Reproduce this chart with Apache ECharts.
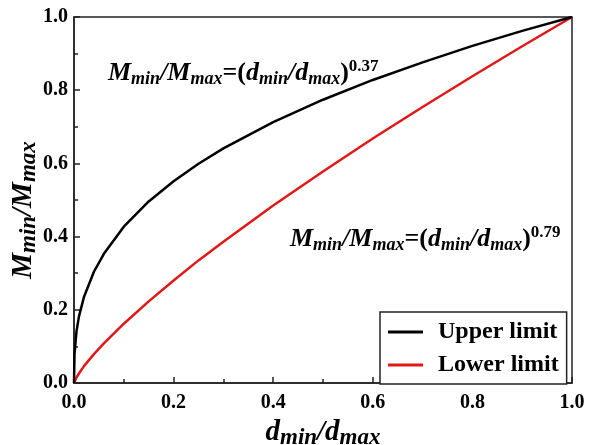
<!doctype html>
<html>
<head>
<meta charset="utf-8">
<title>Mmin/Mmax vs dmin/dmax</title>
<script src="https://cdn.jsdelivr.net/npm/echarts@6/dist/echarts.min.js"></script>
<style>html,body,#app{margin:0;width:593px;height:445px;background:#fff}</style>
</head>
<body>
<div id="app"></div>
<script>
// 数据：点（x = dmin/dmax）
const xValues = [0, 0.001, 0.005, 0.01, 0.02, 0.04, 0.06, 0.1, 0.15, 0.2, 0.25, 0.3, 0.4, 0.5, 0.6, 0.7, 0.8, 0.9, 1.0];
const upperValues = [0, 0.078, 0.141, 0.182, 0.235, 0.304, 0.353, 0.427, 0.496, 0.551, 0.599, 0.641, 0.713, 0.774, 0.828, 0.876, 0.921, 0.962, 1.0];
const lowerValues = [0, 0.004, 0.015, 0.026, 0.046, 0.079, 0.108, 0.162, 0.223, 0.280, 0.335, 0.386, 0.485, 0.578, 0.668, 0.754, 0.838, 0.920, 1.0];
const seriesNames = ["Upper limit", "Lower limit"];
const seriesColors = ["#000000", "#e01818"];
const tickLabels = ["0.0", "0.2", "0.4", "0.6", "0.8", "1.0"];

const serif = "Liberation Serif";

// 富文本样式：主字、下标、上标
const rich = {
  M: { fontFamily: serif, fontSize: 26, fontWeight: "bold", fontStyle: "italic", color: "#000" },
  sub: { fontFamily: serif, fontSize: 18, fontWeight: "bold", fontStyle: "italic", color: "#000", padding: [12, 0, 0, 0] },
  sup: { fontFamily: serif, fontSize: 17, fontWeight: "bold", color: "#000", padding: [0, 0, 14, 0] },
  t: { fontFamily: serif, fontSize: 26, fontWeight: "bold", color: "#000" }
};
// 坐标轴标题稍大
const richAxis = {
  M: { fontFamily: serif, fontSize: 29, fontWeight: "bold", fontStyle: "italic", color: "#000" },
  sub: { fontFamily: serif, fontSize: 23, fontWeight: "bold", fontStyle: "italic", color: "#000", padding: [12, 0, 0, 0] }
};

function formula(p) {
  return "{M|M}{sub|min}{M|/M}{sub|max}{t|=(}{M|d}{sub|min}{M|/d}{sub|max}{t|)}{sup|" + p + "}";
}

const toPairs = (ys) => xValues.map((x, i) => [x, ys[i]]);

const axisCommon = {
  type: "value",
  min: 0,
  max: 1,
  interval: 0.2,
  axisLine: { show: true, lineStyle: { color: "#222", width: 1.5 } },
  axisTick: { show: true, inside: true, length: 6, lineStyle: { color: "#222", width: 1.5 } },
  minorTick: { show: true, splitNumber: 2, length: 4, lineStyle: { color: "#222", width: 1.5 } },
  splitLine: { show: false },
  axisLabel: {
    fontFamily: serif, fontSize: 20, fontWeight: "bold", color: "#000",
    formatter: (v) => tickLabels[Math.round(v * 5)]
  },
  nameLocation: "middle"
};

const option = {
  animation: false,
  grid: {
    left: 74, right: 21, top: 17, bottom: 62,
    containLabel: false, outerBoundsMode: "none",
    show: true, borderColor: "#222", borderWidth: 1.5
  },
  xAxis: Object.assign({}, axisCommon, {
    name: "{M|d}{sub|min}{M|/d}{sub|max}",
    nameGap: 31,
    nameTextStyle: { rich: richAxis },
    axisLabel: Object.assign({}, axisCommon.axisLabel, { margin: 10 })
  }),
  yAxis: Object.assign({}, axisCommon, {
    name: "{M|M}{sub|min}{M|/M}{sub|max}",
    nameGap: 33,
    nameMoveOverlap: false,
    nameTextStyle: { rich: richAxis, padding: [0, 20, 0, 0] },
    axisLabel: Object.assign({}, axisCommon.axisLabel, { margin: 6 })
  }),
  legend: {
    orient: "vertical",
    left: 380,
    top: 312,
    padding: [8, 8, 7, 8],
    itemGap: 9,
    itemWidth: 35,
    itemHeight: 3,
    icon: "rect",
    backgroundColor: "#fff",
    borderColor: "#222",
    borderWidth: 1.5,
    textStyle: { fontFamily: serif, fontSize: 24, fontWeight: "bold", color: "#000", padding: [0, 0, 0, 10], width: 125 },
    data: seriesNames
  },
  graphic: [
    { type: "text", left: 108, top: 58, style: { text: formula("0.37"), rich: rich } },
    { type: "text", left: 290, top: 224, style: { text: formula("0.79"), rich: rich } }
  ],
  series: [
    {
      name: seriesNames[0], type: "line", data: toPairs(upperValues), showSymbol: false,
      lineStyle: { color: seriesColors[0], width: 2.5 }, itemStyle: { color: seriesColors[0] }, z: 3
    },
    {
      name: seriesNames[1], type: "line", data: toPairs(lowerValues), showSymbol: false,
      lineStyle: { color: seriesColors[1], width: 2.5 }, itemStyle: { color: seriesColors[1] }, z: 2
    }
  ]
};

const c = echarts.init(document.getElementById("app"), null, { renderer: "canvas" });
c.setOption(option);
</script>
</body>
</html>
